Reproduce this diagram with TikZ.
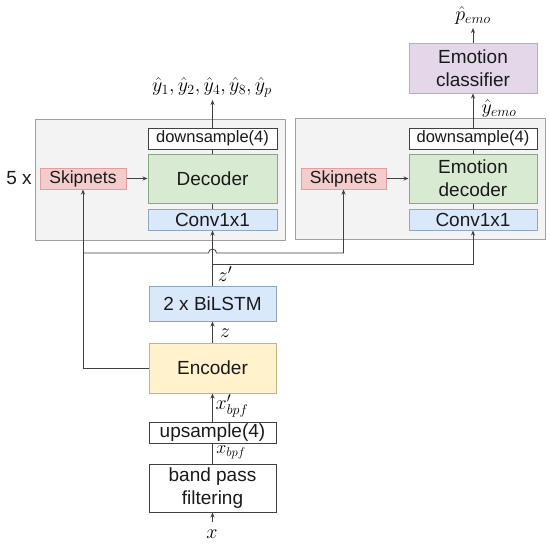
\documentclass[tikz,border=0pt]{standalone}
\usepackage{fix-cm}
\usepackage{fontspec}
\setmainfont{Liberation Sans}
\usetikzlibrary{arrows.meta}
\definecolor{grayfill}{HTML}{F3F3F3}
\definecolor{grayline}{HTML}{A0A0A0}
\definecolor{redfill}{HTML}{F4CCCC}
\definecolor{redline}{HTML}{E0A0A0}
\definecolor{greenfill}{HTML}{D9EAD3}
\definecolor{greenline}{HTML}{88A884}
\definecolor{bluefill}{HTML}{DAE8FC}
\definecolor{blueline}{HTML}{8EA6C4}
\definecolor{yellowfill}{HTML}{FFF2CC}
\definecolor{yellowline}{HTML}{C8B27E}
\definecolor{purplefill}{HTML}{E4D7EA}
\definecolor{purpleline}{HTML}{C0A6CA}
\definecolor{textdark}{HTML}{1A1A1A}
\tikzset{
  blk/.style={draw, line width=1pt, inner sep=0pt, align=center, text=textdark, font=\fontsize{19}{23}\selectfont},
  group/.style={draw=grayline, fill=grayfill, line width=1pt, inner sep=0pt},
  skipbox/.style={blk, fill=redfill, draw=redline, font=\fontsize{17.5}{21}\selectfont},
  decbox/.style={blk, fill=greenfill, draw=greenline},
  convbox/.style={blk, fill=bluefill, draw=blueline},
  encbox/.style={blk, fill=yellowfill, draw=yellowline},
  clsbox/.style={blk, fill=purplefill, draw=purpleline},
  whitebox/.style={blk, fill=white, draw=black!75},
  smallfont/.style={font=\fontsize{16.5}{19}\selectfont},
  conn/.style={line width=0.8pt, draw=black!75},
  arr/.style={conn, -{Stealth[length=5pt,width=4pt]}},
  lbl/.style={inner sep=0pt, font=\fontsize{20}{22}\selectfont},
  sublbl/.style={inner sep=0pt, font=\fontsize{18}{20}\selectfont}
}
\begin{document}
\begin{tikzpicture}[x=1pt,y=-1pt]
\useasboundingbox (0,0) rectangle (550,547);
% groups
\node[group, minimum width=250pt, minimum height=121pt] (lbox) at (160,179.5) {};
\node[group, minimum width=250pt, minimum height=121pt] (rbox) at (420,178.5) {};
% left decoder column
\node[skipbox, minimum width=86pt, minimum height=21pt] (lskip) at (83,178.5) {Skipnets};
\node[decbox, minimum width=129pt, minimum height=49pt] (ldec) at (212.5,178.5) {Decoder};
\node[whitebox, smallfont, minimum width=129pt, minimum height=21pt] (lds) at (212.5,138.5) {downsample(4)};
\node[convbox, minimum width=129pt, minimum height=21pt] (lconv) at (212.5,219.5) {Conv1x1};
\node[inner sep=0pt, font=\fontsize{19}{21}\selectfont, text=textdark] (five) at (19,178) {5 x};
% right column
\node[skipbox, minimum width=85pt, minimum height=21pt] (rskip) at (343.5,178.5) {Skipnets};
\node[decbox, minimum width=128pt, minimum height=49pt] (rdec) at (473,178.5) {Emotion\\decoder};
\node[whitebox, smallfont, minimum width=128pt, minimum height=21pt] (rds) at (473,138.5) {downsample(4)};
\node[convbox, minimum width=128pt, minimum height=21pt] (rconv) at (473,219.5) {Conv1x1};
\node[clsbox, minimum width=128pt, minimum height=50pt] (cls) at (473,68) {Emotion\\classifier};
% encoder column
\node[convbox, minimum width=127pt, minimum height=35pt] (lstm) at (212.5,303.5) {2 x BiLSTM};
\node[encbox, minimum width=127pt, minimum height=50pt] (enc) at (212.5,368) {Encoder};
\node[whitebox, minimum width=127pt, minimum height=21pt] (up) at (212.5,432.5) {upsample(4)};
\node[whitebox, minimum width=127pt, minimum height=48pt] (bpf) at (212.5,488) {band pass\\filtering};
% labels
\node[lbl] (yout) at (212,87) {$\hat{y}_1,\hat{y}_2,\hat{y}_4,\hat{y}_8,\hat{y}_p$};
\node[lbl] (pout) at (473,15) {$\hat{p}_{emo}$};
\node[lbl] (yemo) at (499,108) {$\hat{y}_{emo}$};
\node[lbl] (zp) at (225,274) {$z'$};
\node[lbl] (zl) at (225,333) {$z$};
\node[lbl] (xbp) at (232,406) {$x'_{bpf}$};
\node[sublbl] (xb) at (231,452) {$x_{bpf}$};
\node[lbl] (xin) at (212,534) {$x$};
\coordinate (xtail) at (212.5,522);
\coordinate (ytip) at (212.5,100);
\coordinate (ptip) at (473,28);
\coordinate (skipcorner) at (83,368);
\coordinate (branch) at (83,253);
\coordinate (hopL) at (208.5,253);
\coordinate (rcorner) at (343.5,253);
\coordinate (zsplit) at (212.5,264);
\coordinate (zcorner) at (473,264);
% connectors
\draw[arr] (xtail) -- (bpf.south);
\draw[conn] (bpf.north) -- (up.south);
\draw[arr] (up.north) -- (enc.south);
\draw[arr] (enc.north) -- (lstm.south);
\draw[arr] (lstm.north) -- (lconv.south);
\draw[conn] (lconv.north) -- (ldec.south);
\draw[conn] (ldec.north) -- (lds.south);
\draw[arr] (lds.north) -- (ytip);
\draw[arr] (lskip.east) -- (ldec.west);
\draw[arr] (enc.west) -- (skipcorner) -- (lskip.south);
\draw[arr] (branch) -- (hopL) arc[start angle=180, end angle=0, radius=4pt] -- (rcorner) -- (rskip.south);
\draw[arr] (zsplit) -- (zcorner) -- (rconv.south);
\draw[conn] (rconv.north) -- (rdec.south);
\draw[conn] (rdec.north) -- (rds.south);
\draw[arr] (rskip.east) -- (rdec.west);
\draw[arr] (rds.north) -- (cls.south);
\draw[arr] (cls.north) -- (ptip);
\end{tikzpicture}
\end{document}
